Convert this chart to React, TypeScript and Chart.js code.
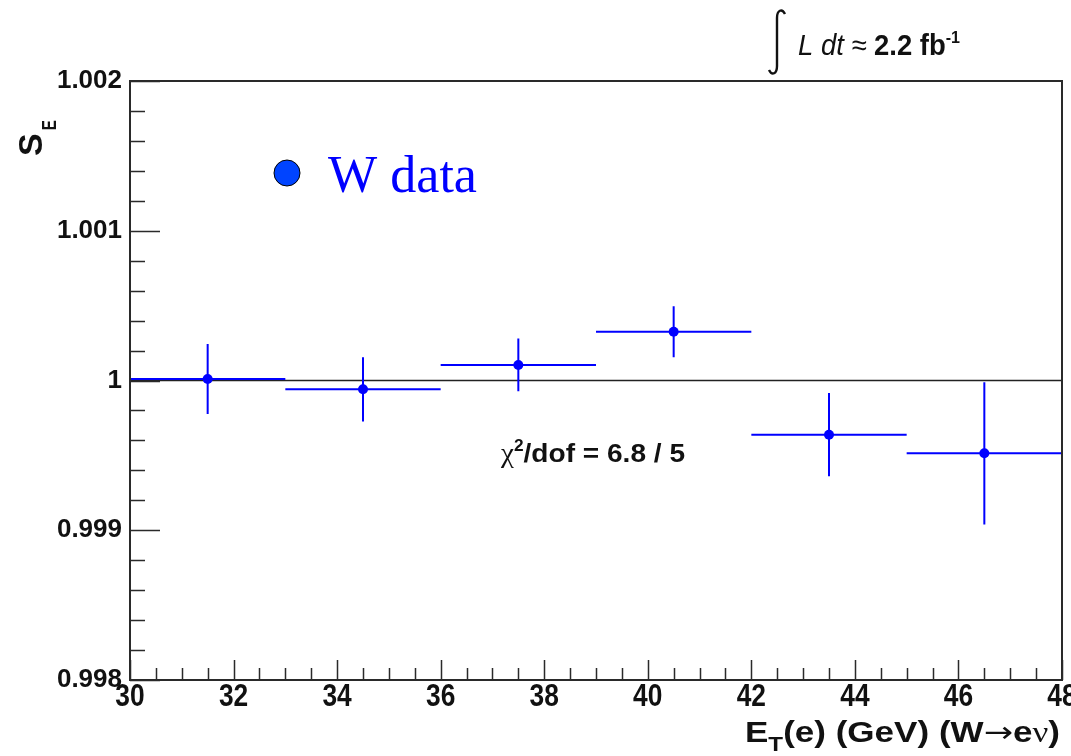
import React, { useEffect, useRef } from "react";
import { Chart, registerables } from "chart.js";

Chart.register(...registerables);

// ---- data ----
const binLow = [30, 33, 36, 39, 42, 45];
const binHigh = [33, 36, 39, 42, 45, 48];
const etCenters = [31.5, 34.5, 37.5, 40.5, 43.5, 46.5];
const sEValues = [1.00001, 0.999941, 1.000104, 1.000326, 0.999638, 0.999514];
const sEErrors = [0.000234, 0.000215, 0.000176, 0.00017, 0.000278, 0.000475];
const referenceLevel = 1;

const xMajorTicks = [30, 32, 34, 36, 38, 40, 42, 44, 46, 48];
const xMinorStep = 0.5;
const yMajorTicks = [0.998, 0.999, 1, 1.001, 1.002];
const yMinorStep = 0.0002;

const legendLabel = "W data";
const chi2Label = "/dof = 6.8 / 5";
const lumiItalic = "L dt \u2248 ";
const lumiBold = "2.2 fb";

const SANS = "'Liberation Sans', Arial, sans-serif";
const SERIF = "'Liberation Serif', 'Times New Roman', serif";

type Piece = { t: string; font: string; dy?: number; color?: string };

function rich(
  ctx: CanvasRenderingContext2D,
  pieces: Piece[],
  x: number,
  y: number,
  width: number | null,
  color: string,
  align: "left" | "right" | "center" = "left",
  sxFixed = 1
) {
  ctx.save();
  ctx.textBaseline = "alphabetic";
  ctx.textAlign = "left";
  const ws: number[] = [];
  let total = 0;
  for (const p of pieces) {
    ctx.font = p.font;
    const w = ctx.measureText(p.t).width;
    ws.push(w);
    total += w;
  }
  const sx = width ? width / total : sxFixed;
  ctx.translate(x, y);
  ctx.scale(sx, 1);
  let cx = align === "right" ? -total : align === "center" ? -total / 2 : 0;
  pieces.forEach((p, i) => {
    ctx.font = p.font;
    ctx.fillStyle = p.color || color;
    ctx.fillText(p.t, cx, p.dy || 0);
    cx += ws[i];
  });
  ctx.restore();
}

const rootPlugin = {
  id: "rootStyle",
  afterDatasetDraw(chart: any, args: any) {
    if (args.index !== 0) return;
    const ctx: CanvasRenderingContext2D = chart.ctx;
    const xs = chart.scales.x;
    const ys = chart.scales.y;
    ctx.save();
    ctx.strokeStyle = "#0000ff";
    ctx.lineWidth = 2;
    for (let i = 0; i < etCenters.length; i++) {
      const yc = ys.getPixelForValue(sEValues[i]);
      const xc = xs.getPixelForValue(etCenters[i]);
      ctx.beginPath();
      ctx.moveTo(xs.getPixelForValue(binLow[i]), yc);
      ctx.lineTo(xs.getPixelForValue(binHigh[i]), yc);
      ctx.moveTo(xc, ys.getPixelForValue(sEValues[i] + sEErrors[i]));
      ctx.lineTo(xc, ys.getPixelForValue(sEValues[i] - sEErrors[i]));
      ctx.stroke();
    }
    ctx.restore();
  },
  afterDraw(chart: any) {
    const ctx: CanvasRenderingContext2D = chart.ctx;
    const xs = chart.scales.x;
    const ys = chart.scales.y;
    const a = chart.chartArea;
    ctx.save();
    // frame
    ctx.strokeStyle = "#2a2a2a";
    ctx.lineWidth = 2;
    ctx.strokeRect(a.left, a.top, a.right - a.left, a.bottom - a.top);
    // y ticks (inside)
    ctx.lineWidth = 1.5;
    const yMin = yMajorTicks[0];
    const yMax = yMajorTicks[yMajorTicks.length - 1];
    const nY = Math.round((yMax - yMin) / yMinorStep);
    ctx.beginPath();
    for (let i = 0; i <= nY; i++) {
      const v = yMin + i * yMinorStep;
      const p = Math.round(ys.getPixelForValue(v)) + 0.5;
      const len = i % 5 === 0 ? 30 : 15;
      ctx.moveTo(a.left, p);
      ctx.lineTo(a.left + len, p);
    }
    // x ticks (inside)
    const xMin = xMajorTicks[0];
    const xMax = xMajorTicks[xMajorTicks.length - 1];
    const nX = Math.round((xMax - xMin) / xMinorStep);
    for (let i = 0; i <= nX; i++) {
      const v = xMin + i * xMinorStep;
      const p = Math.round(xs.getPixelForValue(v)) + 0.5;
      const len = i % 4 === 0 ? 20 : 12;
      ctx.moveTo(p, a.bottom);
      ctx.lineTo(p, a.bottom - len);
    }
    ctx.stroke();
    ctx.restore();

    // x tick labels
    for (const v of xMajorTicks) {
      const p = xs.getPixelForValue(v);
      rich(ctx, [{ t: String(v), font: `bold 31px ${SANS}` }], p, a.bottom + 26, null, "#111", "center", 0.85);
    }

    // x title
    rich(
      ctx,
      [
        { t: "E", font: `bold 29px ${SANS}` },
        { t: "T", font: `bold 20px ${SANS}`, dy: 9 },
        { t: "(e) (GeV) (W", font: `bold 29px ${SANS}` },
        { t: "\u2192", font: `29px 'DejaVu Sans', sans-serif` },
        { t: "e", font: `bold 29px ${SANS}` },
        { t: "\u03bd", font: `29px ${SERIF}` },
        { t: ")", font: `bold 29px ${SANS}` },
      ],
      745,
      742,
      315,
      "#111"
    );

    // y title (rotated)
    ctx.save();
    ctx.translate(42, 156);
    ctx.rotate(-Math.PI / 2);
    ctx.fillStyle = "#111";
    ctx.font = `bold 34px ${SANS}`;
    ctx.textBaseline = "alphabetic";
    ctx.fillText("S", 0, 0);
    const sw = ctx.measureText("S").width;
    ctx.save();
    ctx.translate(sw + 3, 14);
    ctx.scale(0.72, 1);
    ctx.font = `bold 21px ${SANS}`;
    ctx.fillText("E", 0, 0);
    ctx.restore();
    ctx.restore();

    // chi2 label
    rich(
      ctx,
      [
        { t: "\u03c7", font: `27px ${SERIF}` },
        { t: "2", font: `bold 16px ${SANS}`, dy: -11 },
        { t: chi2Label, font: `bold 26px ${SANS}` },
      ],
      501,
      462,
      184,
      "#111"
    );

    // legend
    ctx.save();
    ctx.beginPath();
    ctx.arc(287, 173, 13, 0, Math.PI * 2);
    ctx.fillStyle = "#0044ff";
    ctx.fill();
    ctx.lineWidth = 1;
    ctx.strokeStyle = "#000";
    ctx.stroke();
    ctx.restore();
    rich(ctx, [{ t: legendLabel, font: `52px ${SERIF}` }], 328, 192, 149, "#0000ff");

    // luminosity label with integral sign
    ctx.save();
    ctx.strokeStyle = "#111";
    ctx.lineWidth = 2.4;
    ctx.beginPath();
    ctx.moveTo(785, 14);
    ctx.bezierCurveTo(782, 8, 777, 10, 777, 18);
    ctx.lineTo(777, 66);
    ctx.bezierCurveTo(777, 74, 772, 76, 769, 70);
    ctx.stroke();
    ctx.restore();
    rich(
      ctx,
      [
        { t: lumiItalic, font: `italic 29px ${SANS}` },
        { t: lumiBold, font: `bold 29px ${SANS}` },
        { t: "-1", font: `bold 17px ${SANS}`, dy: -12 },
      ],
      798,
      55,
      162,
      "#111"
    );
  },
};

export default function App() {
  const ref = useRef<HTMLCanvasElement | null>(null);
  useEffect(() => {
    document.body.style.margin = "0";
    const canvas = ref.current;
    if (!canvas) return;
    const chart = new Chart(canvas, {
      type: "scatter",
      data: {
        datasets: [
          {
            type: "line",
            label: "reference",
            data: [
              { x: binLow[0], y: referenceLevel },
              { x: binHigh[binHigh.length - 1], y: referenceLevel },
            ],
            borderColor: "#222",
            borderWidth: 1.5,
            pointRadius: 0,
            showLine: true,
            order: 2,
          } as any,
          {
            label: legendLabel,
            data: etCenters.map((x, i) => ({ x, y: sEValues[i] })),
            pointRadius: 5,
            pointBackgroundColor: "#0000ff",
            pointBorderWidth: 0,
            showLine: false,
            order: 1,
          },
        ],
      },
      options: {
        animation: false,
        responsive: false,
        devicePixelRatio: 1,
        layout: { padding: { top: 81, right: 9, left: 0, bottom: 0 } },
        plugins: { legend: { display: false }, tooltip: { enabled: false } },
        scales: {
          x: {
            type: "linear",
            min: 30,
            max: 48,
            grid: { display: false },
            border: { display: false },
            ticks: { display: false },
            afterFit: (s: any) => {
              s.height = 76;
            },
          },
          y: {
            type: "linear",
            min: 0.998,
            max: 1.002,
            grid: { display: false },
            border: { display: false },
            afterBuildTicks: (s: any) => {
              s.ticks = yMajorTicks.map((v) => ({ value: v }));
            },
            ticks: {
              color: "#111",
              padding: 0,
              autoSkip: false,
              font: { family: "'Liberation Sans', Arial, sans-serif", weight: "bold", size: 26 },
              callback: (v: any) => String(Number(Number(v).toFixed(4))),
            },
            afterFit: (s: any) => {
              s.width = 130;
            },
          },
        },
      },
      plugins: [rootPlugin],
    });
    return () => chart.destroy();
  }, []);
  return (
    <div style={{ position: "absolute", left: 0, top: 0, width: 1071, height: 756, background: "#fff" }}>
      <canvas ref={ref} width={1071} height={756} style={{ display: "block" }} />
    </div>
  );
}
